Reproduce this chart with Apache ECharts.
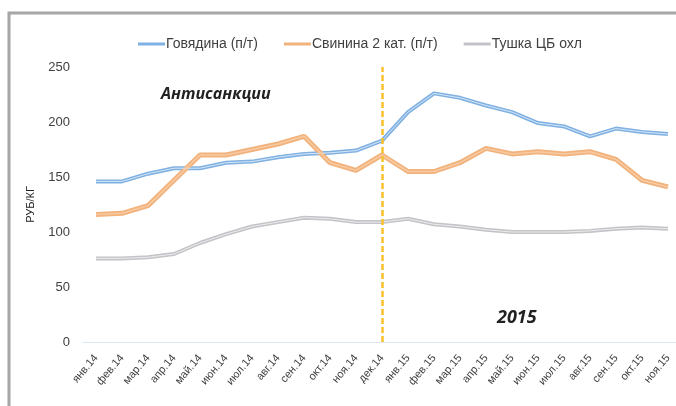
<!DOCTYPE html>
<html>
<head>
<meta charset="utf-8">
<script src="https://cdn.jsdelivr.net/npm/echarts@6/dist/echarts.min.js"></script>
<style>
  html, body { margin: 0; padding: 0; background: #fff; overflow: hidden; }
  /* chart area runs a little past the right edge, like the cropped original */
  #chart { width: 686px; height: 406px; }
</style>
</head>
<body>
<div id="chart"></div>
<script>
const months = ['янв.14', 'фев.14', 'мар.14', 'апр.14', 'май.14', 'июн.14', 'июл.14', 'авг.14', 'сен.14', 'окт.14', 'ноя.14', 'дек.14',
  'янв.15', 'фев.15', 'мар.15', 'апр.15', 'май.15', 'июн.15', 'июл.15', 'авг.15', 'сен.15', 'окт.15', 'ноя.15']
const beef = [146, 146, 153, 158, 158, 163, 164, 168, 171, 172, 174, 183, 209, 226, 222, 215, 209, 199, 196, 187, 194, 191, 189]
const pork = [116, 117, 124, 147, 170, 170, 175, 180, 187, 163, 156, 170, 155, 155, 163, 176, 171, 173, 171, 173, 166, 147, 141]
const chicken = [76, 76, 77, 80, 90, 98, 105, 109, 113, 112, 109, 109, 112, 107, 105, 102, 100, 100, 100, 101, 103, 104, 103]
const yTicks = [0, 50, 100, 150, 200, 250]

const font = 'Liberation Sans'

// excel-style double line: wide coloured stroke plus a thin light core
const lineSeries = (name, data, color, width) => ({
  name,
  type: 'line',
  data,
  symbol: 'none',
  lineStyle: { color, width },
  itemStyle: { color },
  z: 3
})
const coreSeries = (data, color, width) => ({
  type: 'line',
  data,
  symbol: 'none',
  silent: true,
  lineStyle: { color, width },
  z: 4
})

const chart = echarts.init(document.getElementById('chart'))
chart.setOption({
  animation: false,
  backgroundColor: '#fff',
  graphic: [
    { type: 'polyline', shape: { points: [[9, 406], [9, 13], [676, 13]] }, style: { stroke: '#a6a6a6', lineWidth: 3, fill: null } },
    { type: 'text', left: 161, top: 86, style: { text: 'Антисанкции', font: 'italic bold 16px "Open Sans"', fill: '#222' } },
    { type: 'text', left: 497, top: 309, style: { text: '2015', font: 'italic bold 18px "Open Sans"', fill: '#222' } }
  ],
  legend: {
    top: 32,
    left: 133,
    itemWidth: 27,
    itemHeight: 3,
    itemGap: 26,
    icon: 'rect',
    textStyle: { fontFamily: font, fontSize: 14, color: '#404040', padding: [0, 0, 0, -4] },
    data: ['Говядина (п/т)', 'Свинина 2 кат. (п/т)', 'Тушка ЦБ охл']
  },
  grid: { left: 83, right: 5, top: 67, bottom: 64 },
  xAxis: {
    type: 'category',
    data: months,
    boundaryGap: true,
    axisLine: { lineStyle: { color: '#dce6f0', width: 1 } },
    axisTick: { show: false },
    axisLabel: { interval: 0, rotate: 50, fontSize: 11, color: '#404040', fontFamily: font, margin: 14 }
  },
  yAxis: {
    type: 'value',
    min: yTicks[0],
    max: yTicks[yTicks.length - 1],
    interval: 50,
    name: 'РУБ/КГ',
    nameLocation: 'middle',
    nameGap: 47,
    nameMoveOverlap: false,
    nameRotate: 90,
    nameTextStyle: { fontSize: 11, color: '#222', fontFamily: font },
    axisLine: { show: false },
    axisTick: { show: false },
    splitLine: { show: false },
    axisLabel: { fontSize: 13, color: '#404040', fontFamily: font, margin: 13 }
  },
  series: [
    Object.assign(lineSeries('Говядина (п/т)', beef, '#7fb1e2', 4), {
      markLine: {
        silent: true,
        symbol: 'none',
        label: { show: false },
        lineStyle: { color: '#f7c12c', type: [6, 3], width: 2.5 },
        data: [{ xAxis: 'дек.14' }]
      }
    }),
    lineSeries('Свинина 2 кат. (п/т)', pork, '#f2b27c', 5),
    lineSeries('Тушка ЦБ охл', chicken, '#c4c4c8', 4),
    coreSeries(beef, '#d6e6f6', 1),
    coreSeries(pork, '#f7caa2', 1.5),
    coreSeries(chicken, '#ececee', 1)
  ]
})
</script>
</body>
</html>
